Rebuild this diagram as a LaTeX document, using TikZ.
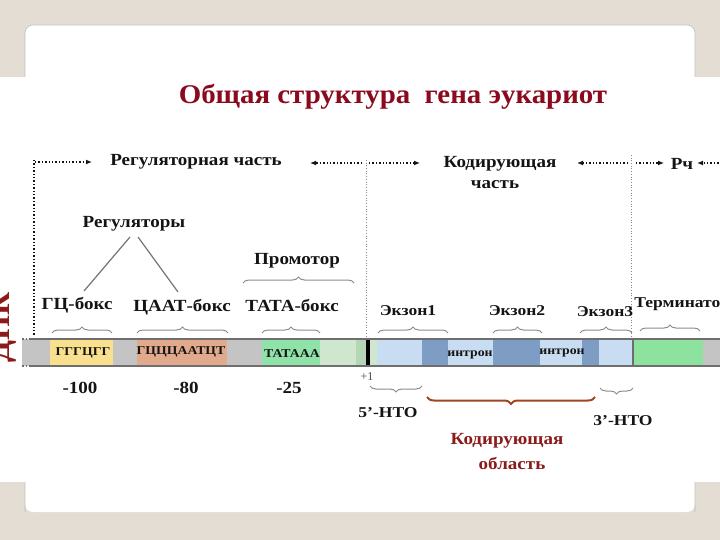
\documentclass[tikz,border=0pt]{standalone}
\usepackage{fontspec}
\setmainfont{Liberation Serif}
\usetikzlibrary{decorations.pathreplacing,arrows.meta}
\definecolor{bgbeige}{HTML}{E3DDD3}
\definecolor{txt}{HTML}{141414}
\definecolor{titlered}{HTML}{8B0A1E}
\definecolor{codred}{HTML}{8B1A1A}
\definecolor{barfill}{HTML}{C4C4C4}
\definecolor{barline}{HTML}{6E6E6E}
\definecolor{gcyellow}{HTML}{F8E08E}
\definecolor{caatsalmon}{HTML}{E2AA8C}
\definecolor{tatagreen}{HTML}{8FE2A8}
\definecolor{lightgreen}{HTML}{CFE6CF}
\definecolor{midgreen}{HTML}{B4D6B4}
\definecolor{lightblue}{HTML}{C9DDF2}
\definecolor{darkblue}{HTML}{7E9DC5}
\definecolor{termgreen}{HTML}{8DE39E}
\definecolor{bracegrey}{HTML}{8C8C8C}
\definecolor{codbrace}{HTML}{A0461E}
\definecolor{vline}{HTML}{8A8A8A}
\begin{document}
\begin{tikzpicture}[x=1pt,y=-1pt,
  lbl/.style={font=\bfseries\fontsize{17}{18}\selectfont, text=txt, inner sep=0pt, xscale=1.12},
  slbl/.style={font=\bfseries\fontsize{15}{16}\selectfont, text=txt, inner sep=0pt, xscale=1.17},
  seq/.style={font=\bfseries\fontsize{12}{13}\selectfont, text=txt, inner sep=0pt, xscale=1.15},
  upbrace/.style={draw=bracegrey, line width=1pt, decorate, decoration={brace, amplitude=6pt}},
  downbrace/.style={draw=bracegrey, line width=1pt, decorate, decoration={brace, mirror, amplitude=6pt}},
  dotarrow/.style={draw=txt, line width=1.4pt, dotted, -{Latex[length=6pt,width=5pt,fill=txt]}},
  vdot/.style={draw=vline, line width=0.7pt, dotted},
  regline/.style={draw=black!55, line width=1.2pt}
]
\useasboundingbox (0,0) rectangle (720,540);
\clip (0,0) rectangle (720,540);
% background
\fill[bgbeige] (0,0) rectangle (720,540);
\fill[white, rounded corners=8pt] (25,25) rectangle (695,512);
\draw[black!25, line width=0.6pt, rounded corners=8pt] (25,512) -- (25,25) -- (695,25) -- (695,512);
\fill[white] (0,77) rectangle (720,482);

% title
\node[font=\bfseries\fontsize{27}{30}\selectfont, text=titlered, inner sep=0pt, xscale=1.07] (title) at (393,97) {Общая структура~~гена эукариот};

% left clipped DNA label
\node[font=\bfseries\fontsize{32}{32}\selectfont, text=codred, rotate=90, inner sep=0pt] (dnk) at (2,327) {ДНК};

% header row
\coordinate (ha1) at (35,162); \coordinate (hb1) at (92,162);
\draw[dotarrow] (ha1) -- (hb1);
\node[lbl] (regpart) at (196,162) {Регуляторная часть};
\coordinate (ha2) at (362,163); \coordinate (hb2) at (310,163);
\draw[dotarrow] (ha2) -- (hb2);
\coordinate (ha3) at (369,163); \coordinate (hb3) at (420,163);
\draw[dotarrow] (ha3) -- (hb3);
\node[lbl] (codpart1) at (500,164) {Кодирующая};
\node[lbl] (codpart2) at (495,185) {часть};
\coordinate (ha4) at (628,163); \coordinate (hb4) at (577,163);
\draw[dotarrow] (ha4) -- (hb4);
\coordinate (ha5) at (636,163); \coordinate (hb5) at (664,163);
\draw[dotarrow] (ha5) -- (hb5);
\node[lbl] (rch) at (682,164) {Рч};
\coordinate (ha6) at (722,163); \coordinate (hb6) at (697,163);
\draw[dotarrow] (ha6) -- (hb6);

% vertical dotted lines
\coordinate (v1a) at (34,160); \coordinate (v1b) at (34,336);
\draw[draw=txt, line width=1.4pt, dotted] (v1a) -- (v1b);
\coordinate (v2a) at (366,160); \coordinate (v2b) at (366,340);
\draw[vdot] (v2a) -- (v2b);
\coordinate (v3a) at (631,155); \coordinate (v3b) at (631,340);
\draw[vdot] (v3a) -- (v3b);

% DNA bar
\fill[barfill] (22,339) rectangle (720,366);
\fill[gcyellow] (50,340) rectangle (113,365);
\fill[caatsalmon] (137,340) rectangle (227,365);
\fill[tatagreen] (262,340) rectangle (320,365);
\fill[lightgreen] (320,340) rectangle (356,365);
\fill[midgreen] (356,340) rectangle (366,365);
\fill[black] (366,340) rectangle (369.5,365);
\fill[lightgreen] (369.5,340) rectangle (377,365);
\fill[lightblue] (377,340) rectangle (422,365);
\fill[darkblue] (422,340) rectangle (448,365);
\fill[lightblue] (448,340) rectangle (493,365);
\fill[darkblue] (493,340) rectangle (540,365);
\fill[lightblue] (540,340) rectangle (582,365);
\fill[darkblue] (582,340) rectangle (599,365);
\fill[lightblue] (599,340) rectangle (632,365);
\fill[barline] (632,340) rectangle (633.5,365);
\fill[termgreen] (633.5,340) rectangle (703,365);
\draw[barline, line width=1.6pt] (30,339) -- (720,339);
\draw[barline, line width=1.6pt] (30,366) -- (720,366);
\draw[barline, line width=1.6pt, dotted] (22,339) -- (30,339);
\draw[barline, line width=1.6pt, dotted] (22,366) -- (30,366);

% sequences in bar
\node[seq] (sgc) at (83,353) {ГГГЦГГ};
\node[seq] (scaat) at (181,352) {ГЦЦЦААТЦТ};
\node[seq] (stata) at (292,354) {ТАТААА};
\node[seq] (intr1) at (470,355) {интрон};
\node[seq] (intr2) at (562,353) {интрон};

% braces above bar
\draw[upbrace] (52,333) -- (112,333);
\draw[upbrace] (137,333) -- (228,333);
\draw[upbrace] (262,333) -- (320,333);
\draw[upbrace] (378,333) -- (448,333);
\draw[upbrace] (493,333) -- (542,333);
\draw[upbrace] (580,333) -- (632,333);
\draw[upbrace] (640,331) -- (700,331);
\draw[upbrace] (243,283) -- (354,283);

% labels above
\node[lbl] (regul) at (134,224) {Регуляторы};
\node[lbl] (gcbox) at (77,305) {ГЦ-бокс};
\node[lbl] (caatbox) at (182,307) {ЦААТ-бокс};
\node[lbl] (tatabox) at (292,305) {ТАТА-бокс};
\node[lbl] (promotor) at (297,261) {Промотор};
\node[slbl] (ex1) at (408,311) {Экзон1};
\node[slbl] (ex2) at (517,311) {Экзон2};
\node[slbl] (ex3) at (605,312) {Экзон3};
\node[slbl, fill=white, inner sep=1pt, anchor=west] (term) at (633,304) {Терминатор};

% lines from Регуляторы
\coordinate (r1) at (130,237);
\coordinate (r2) at (138,237);
\coordinate (g1) at (84,291);
\coordinate (c1) at (178,292);
\draw[regline] (r1) -- (g1);
\draw[regline] (r2) -- (c1);

% numbers
\node[lbl] (n100) at (80,388) {-100};
\node[lbl] (n80) at (186,388) {-80};
\node[lbl] (n25) at (289,388) {-25};
\node[font=\fontsize{12}{13}\selectfont, text=black!70, inner sep=0pt] (plus1) at (367,377) {+1};

% braces below bar
\draw[downbrace] (370,386) -- (422,386);
\draw[downbrace] (600,388) -- (633,388);
\draw[draw=codbrace, line width=2pt, decorate, decoration={brace, mirror, amplitude=7pt}] (427,397) -- (595,397);

\node[slbl] (nto5) at (388,413) {5'-НТО};
\node[slbl] (nto3) at (623,421) {3'-НТО};
\node[lbl, text=codred] (codreg1) at (507,441) {Кодирующая};
\node[lbl, text=codred] (codreg2) at (512,463) {область};
\end{tikzpicture}
\end{document}
